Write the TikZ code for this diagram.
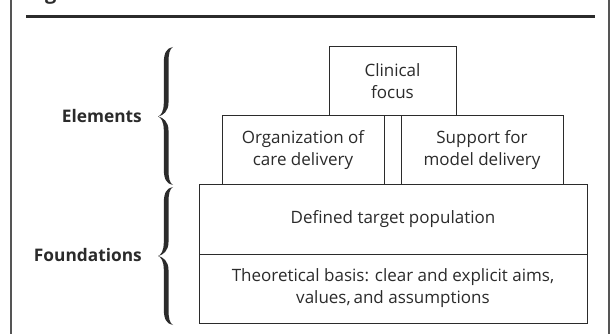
\documentclass[tikz,border=0pt]{standalone}
\usepackage{fontspec}
\setmainfont{Open Sans}
\definecolor{ink}{HTML}{2B2B2B}
\newcommand{\bracefill}[4]{% tip x, tip y, top y, bottom y
  \fill[ink] (#1+15,#3) .. controls (#1+8.5,#3+1) and (#1+5.8,#3+6) .. (#1+5.8,#3+16)
    -- (#1+5.8,#2-14) .. controls (#1+5.8,#2-5) and (#1+3,#2-1) .. (#1,#2)
    .. controls (#1+3,#2+1) and (#1+5.8,#2+5) .. (#1+5.8,#2+14)
    -- (#1+5.8,#4-16) .. controls (#1+5.8,#4-6) and (#1+8.5,#4-1) .. (#1+15,#4)
    .. controls (#1+11.5,#4-2) and (#1+10.5,#4-7) .. (#1+10.5,#4-16)
    -- (#1+10.5,#2+14) .. controls (#1+10.5,#2+5) and (#1+5,#2+1) .. (#1,#2)
    .. controls (#1+5,#2-1) and (#1+10.5,#2-5) .. (#1+10.5,#2-14)
    -- (#1+10.5,#3+16) .. controls (#1+10.5,#3+7) and (#1+11.5,#3+2) .. (#1+15,#3) -- cycle;}
\begin{document}
\begin{tikzpicture}[x=1pt,y=-1pt,
  box/.style={draw=ink,line width=1pt,rectangle,inner sep=0pt,align=center,text=ink,
    font=\fontsize{17}{22}\selectfont,minimum height=69pt},
  lab/.style={text=ink,font=\bfseries\fontsize{17.3}{20}\selectfont,inner sep=0pt},
  frame/.style={draw=ink!80,line width=1.1pt}]
\useasboundingbox (0,0) rectangle (611,334);
\fill[white] (0,0) rectangle (611,334);
% cropped title descender
\begin{scope}
  \clip (0,0) rectangle (611,8);
  \node[anchor=base west,inner sep=0pt,text=ink,font=\bfseries\fontsize{20}{24}\selectfont] (title) at (45,0) {g};
\end{scope}
% frame lines
\coordinate (fl1) at (11,0); \coordinate (fl2) at (11,334);
\coordinate (fr1) at (609,0); \coordinate (fr2) at (609,334);
\draw[frame] (fl1) -- (fl2);
\draw[frame] (fr1) -- (fr2);
\coordinate (r1) at (26,16.5); \coordinate (r2) at (595,16.5);
\draw[ink,line width=3.6pt] (r1) -- (r2);
% boxes
\node[box,minimum width=127pt] (clin) at (392.5,81.5) {Clinical\\focus};
\node[box,minimum width=162pt] (org) at (303,150.5) {Organization of\\care delivery};
\node[box,minimum width=162pt] (sup) at (482,150.5) {Support for\\model delivery};
\node[box,minimum width=388pt] (tgt) at (393,219.5) {Defined target population};
\node[box,minimum width=388pt] (theo) at (393,288.5) {Theoretical basis: clear and explicit aims,\\values,\,and assumptions};
% braces
\bracefill{158}{116.5}{47}{185}
\bracefill{158}{256}{187}{325}
% labels
\node[lab,anchor=base east] (el) at (142,122.7) {Elements};
\node[lab,anchor=base east] (fd) at (142,261.7) {Foundations};
\end{tikzpicture}
\end{document}
